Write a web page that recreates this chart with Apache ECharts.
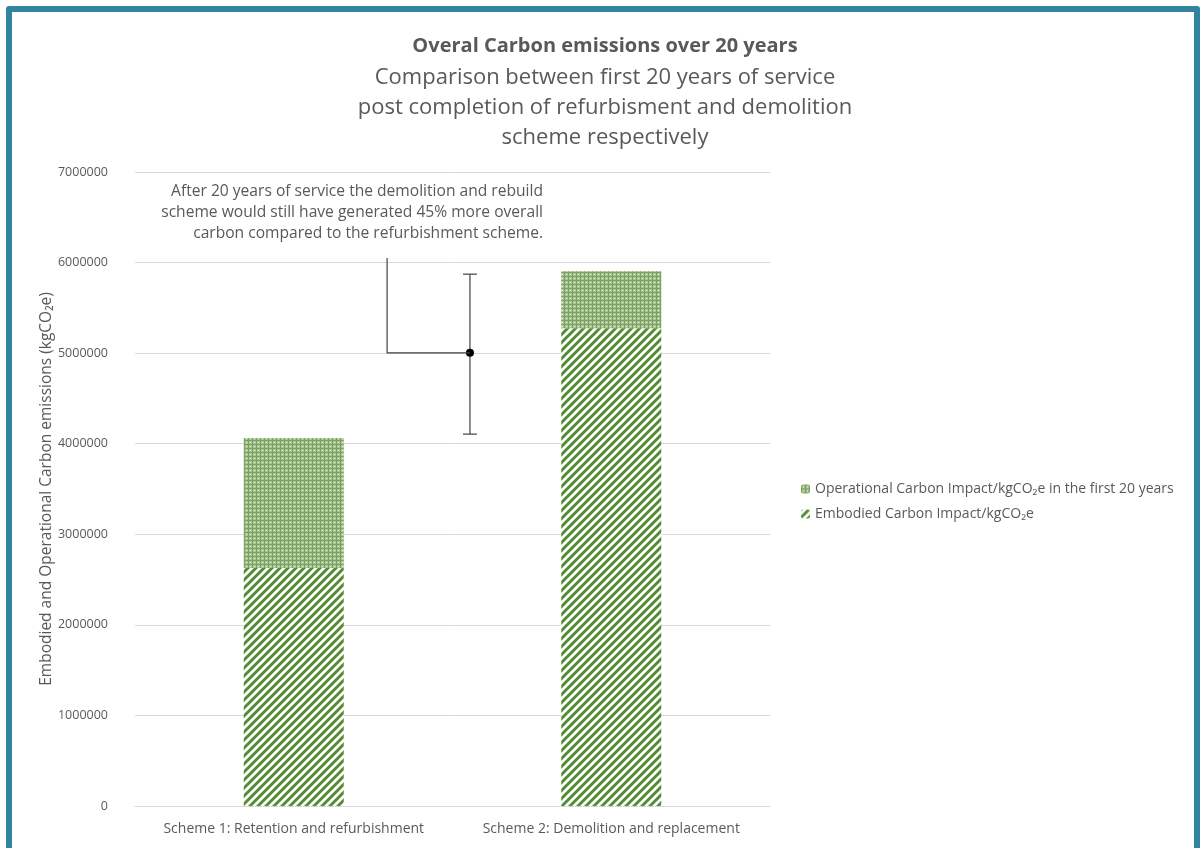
<!DOCTYPE html>
<html>
<head>
<meta charset="utf-8">
<script src="https://cdn.jsdelivr.net/npm/echarts@6/dist/echarts.min.js"></script>
<style>
  html, body { margin: 0; padding: 0; background: #fff; }
  #chart { position: absolute; left: 0; top: 0; width: 1200px; height: 848px; }
  #frame {
    position: absolute; left: 6px; top: 6px; width: 1182px; height: 900px;
    border: 6px solid #31849B; border-radius: 3px; pointer-events: none;
  }
</style>
</head>
<body>
<div id="chart"></div>
<div id="frame"></div>
<script>
const categories = ['Scheme 1: Retention and refurbishment', 'Scheme 2: Demolition and replacement']
const embodied = [2627000, 5276000]
const operational = [1435000, 629000]
const yTicks = [0, 1000000, 2000000, 3000000, 4000000, 5000000, 6000000, 7000000]

// annotation bracket (x on a hidden 0..2 value axis, y in kgCO2e)
const errorBar = { x: 1.055, low: 4106000, mid: 5003000, high: 5872000 }
const leaderLine = [[0.794, 6050000], [0.794, 5003000], [1.055, 5003000]]

const textColor = '#595959'
const fontFamily = '"Open Sans", "Noto Sans", sans-serif'

function makeStripe() {
  const c = document.createElement('canvas')
  c.width = 8
  c.height = 8
  const ctx = c.getContext('2d')
  ctx.fillStyle = '#ffffff'
  ctx.fillRect(0, 0, 8, 8)
  ctx.strokeStyle = '#548C35'
  ctx.lineWidth = 3
  ctx.beginPath()
  ctx.moveTo(-2, 10); ctx.lineTo(10, -2)
  ctx.moveTo(-6, 6); ctx.lineTo(6, -6)
  ctx.moveTo(2, 14); ctx.lineTo(14, 2)
  ctx.stroke()
  return c
}

function makeGrid() {
  const c = document.createElement('canvas')
  c.width = 4
  c.height = 4
  const ctx = c.getContext('2d')
  ctx.fillStyle = '#A8C494'
  ctx.fillRect(0, 0, 4, 4)
  ctx.fillStyle = '#79A25C'
  ctx.fillRect(0, 0, 4, 1)
  ctx.fillRect(0, 0, 1, 4)
  ctx.fillStyle = '#EAF1E3'
  ctx.fillRect(2, 2, 1, 1)
  return c
}

const chart = echarts.init(document.getElementById('chart'))

chart.setOption({
  animation: false,
  textStyle: { fontFamily },
  title: [{
    text: 'Overal Carbon emissions over 20 years',
    left: 600, top: 31, textAlign: 'center',
    textStyle: { fontSize: 20, fontWeight: 'bold', color: textColor, fontFamily }
  }, {
    text: 'Comparison between first 20 years of service\npost completion of refurbisment and demolition\nscheme respectively',
    left: 600, top: 58, textAlign: 'center',
    textStyle: { fontSize: 22, fontWeight: 'normal', color: textColor, lineHeight: 30, fontFamily }
  }],
  legend: {
    orient: 'vertical',
    left: 796, top: 477,
    itemWidth: 9, itemHeight: 9, itemGap: 11,
    data: ['Operational Carbon Impact/kgCO₂e in the first 20 years', 'Embodied Carbon Impact/kgCO₂e'],
    textStyle: { fontSize: 14, color: textColor, fontFamily }
  },
  graphic: [{
    type: 'text',
    x: 543, y: 181,
    style: {
      text: 'After 20 years of service the demolition and rebuild\nscheme would still have generated 45% more overall\ncarbon compared to the refurbishment scheme.',
      align: 'right', fill: textColor, font: '15.6px ' + fontFamily, lineHeight: 21
    }
  }, {
    // y axis title
    type: 'text',
    x: 47, y: 489, rotation: Math.PI / 2,
    style: {
      text: 'Embodied and Operational Carbon emissions (kgCO₂e)',
      align: 'center', verticalAlign: 'middle', fill: textColor, font: '15.5px ' + fontFamily
    }
  }],
  grid: { left: 135, right: 430, top: 172, bottom: 42, containLabel: false },
  xAxis: [{
    type: 'category',
    data: categories,
    axisLine: { lineStyle: { color: '#D9D9D9' } },
    axisTick: { show: false },
    axisLabel: { color: textColor, fontSize: 14, margin: 16, interval: 0, fontFamily }
  }, {
    type: 'value', min: 0, max: 2, show: false
  }],
  yAxis: {
    type: 'value',
    min: yTicks[0], max: yTicks[yTicks.length - 1], interval: 1000000,
    axisLine: { show: false },
    axisTick: { show: false },
    axisLabel: { color: textColor, fontSize: 12.5, margin: 27, formatter: v => String(v) },
    splitLine: { lineStyle: { color: '#D9D9D9' } }
  },
  series: [{
    name: 'Embodied Carbon Impact/kgCO₂e',
    type: 'bar', stack: 'total', barWidth: 100,
    data: embodied,
    itemStyle: { color: { image: makeStripe(), repeat: 'repeat' } }
  }, {
    name: 'Operational Carbon Impact/kgCO₂e in the first 20 years',
    type: 'bar', stack: 'total', barWidth: 100,
    data: operational,
    itemStyle: { color: { image: makeGrid(), repeat: 'repeat' } }
  }, {
    name: 'leader',
    type: 'line', xAxisIndex: 1,
    data: leaderLine,
    symbol: 'none', silent: true,
    lineStyle: { color: '#404040', width: 1.2 }
  }, {
    name: 'bracket',
    type: 'custom', xAxisIndex: 1, silent: true,
    data: [[errorBar.x, errorBar.low, errorBar.mid, errorBar.high]],
    renderItem: function (params, api) {
      const lo = api.coord([api.value(0), api.value(1)])
      const mi = api.coord([api.value(0), api.value(2)])
      const hi = api.coord([api.value(0), api.value(3)])
      const st = { stroke: '#404040', lineWidth: 1.2 }
      return {
        type: 'group',
        children: [
          { type: 'line', shape: { x1: lo[0], y1: lo[1], x2: hi[0], y2: hi[1] }, style: st },
          { type: 'line', shape: { x1: lo[0] - 7, y1: lo[1], x2: lo[0] + 7, y2: lo[1] }, style: st },
          { type: 'line', shape: { x1: hi[0] - 7, y1: hi[1], x2: hi[0] + 7, y2: hi[1] }, style: st },
          { type: 'circle', shape: { cx: mi[0], cy: mi[1], r: 4 }, style: { fill: '#000' } }
        ]
      }
    }
  }]
})
</script>
</body>
</html>
